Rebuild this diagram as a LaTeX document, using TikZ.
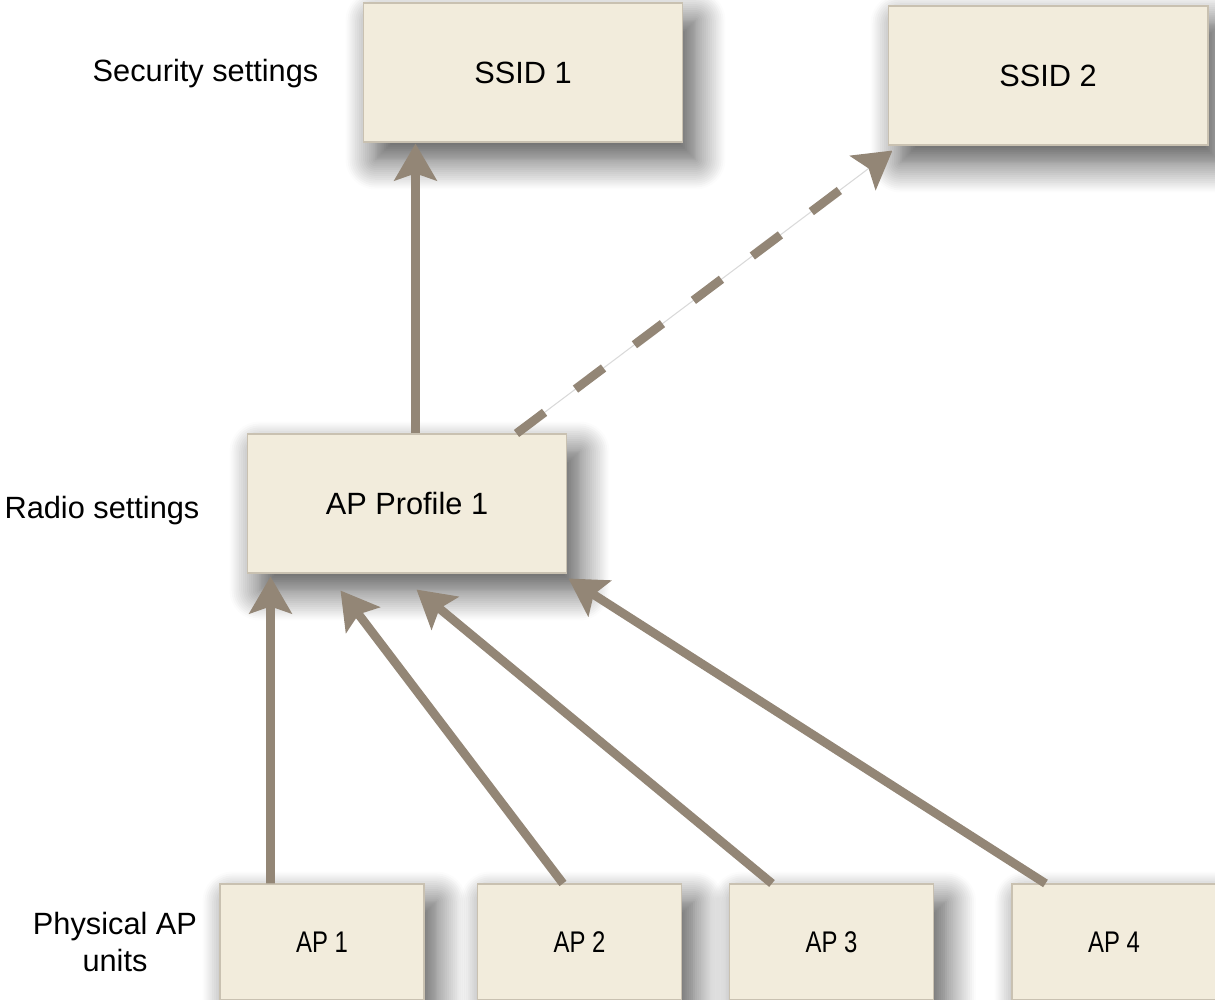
\documentclass[tikz,border=0pt]{standalone}
\usepackage{fontspec}
\setmainfont{Liberation Sans}
\newfontfamily\narrowfont[FakeStretch=0.8]{Liberation Sans}
\usetikzlibrary{arrows.meta,calc,shadows.blur}
\definecolor{boxfill}{HTML}{F2ECDC}
\definecolor{boxline}{HTML}{C9C1B1}
\definecolor{linkcolor}{HTML}{938676}
\begin{document}
\begin{tikzpicture}
[x=0.02cm,y=-0.02cm,font=\fontsize{17.5}{21.5}\selectfont,
  boxdecorate/.style={shape=rectangle,draw=boxline,fill=boxfill,line width=0.6pt,
    minimum width=6.4cm,minimum height=2.78cm,font=\fontsize{17.5}{20}\selectfont,
    blur shadow={shadow xshift=0.25cm,shadow yshift=-0.35cm,
      shadow blur radius=0.6cm,shadow opacity=70,shadow blur steps=16}},
  apdecorate/.style={boxdecorate,minimum width=4.08cm,minimum height=2.32cm,
    font=\narrowfont\fontsize{17}{19}\selectfont},
  linedecorate/.style={draw=linkcolor,line width=5pt,
    -{Stealth[length=21pt,width=24pt,inset=4pt]}},
  dashdecorate/.style={linedecorate,dash pattern=on 20pt off 22pt}]
\useasboundingbox (0,0) rectangle (1215,1000);
%% nodes or vertices
\node (ssid1) at (523,72.5) [boxdecorate] {SSID 1};
\node (ssid2) at (1048,75.5) [boxdecorate] {SSID 2};
\node (prof) at (407,503.5) [boxdecorate] {AP Profile 1};
\foreach \nodename/\x/\n in {ap1/322/1, ap2/579.5/2, ap3/831.5/3, ap4/1114/4} {
  \node (\nodename) at (\x,942) [apdecorate] {AP \n};
}
\node (seclabel) at (205.5,74) {Security settings};
\node (radiolabel) at (102,511) {Radio settings};
\node (physlabel) at (115,942) [align=center] {Physical AP\\units};
%% edges or lines
\draw[linedecorate] ($(prof.north west)+(169,0)$) -- ($(ssid1.south west)+(53,1)$);
\draw[black!15,line width=0.6pt] ($(prof.north west)+(270,0)$) -- ($(ssid2.south west)+(5,5)$);
\draw[dashdecorate] ($(prof.north west)+(270,0)$) -- ($(ssid2.south west)+(5,5)$);
\foreach \startnode/\startx/\endx/\endy in {ap1/51/24/3, ap2/86/94/17,
  ap3/43/170/16, ap4/34/322/5} {
  \draw[linedecorate] ($(\startnode.north west)+(\startx,0)$) -- ($(prof.south west)+(\endx,\endy)$);
}
\end{tikzpicture}
\end{document}
